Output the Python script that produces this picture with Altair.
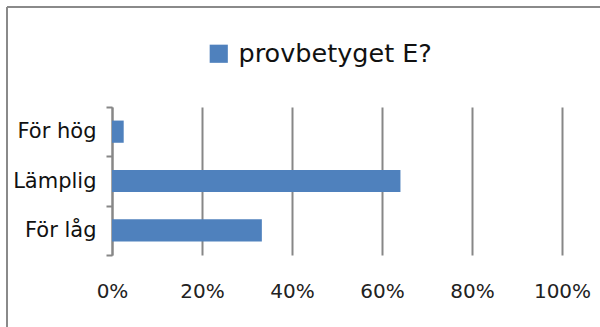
import altair as alt
import pandas as pd

categories = ["För hög", "Lämplig", "För låg"]
values = [0.026, 0.641, 0.333]
series_name = "provbetyget E?"
tick_values = [0, 0.2, 0.4, 0.6, 0.8, 1.0]

df = pd.DataFrame({"kategori": categories, "andel": values, "serie": [series_name] * 3})

FONT = "DejaVu Sans"
GRAY = "#878787"

bars = alt.Chart(df).mark_bar(color="#4f81bd", height=alt.RelativeBandSize(0.45)).encode(
    x=alt.X("andel:Q",
            scale=alt.Scale(domain=[0, 1], nice=False),
            axis=alt.Axis(values=tick_values, format=".0%", title=None,
                          domain=False, ticks=False, grid=True,
                          gridColor=GRAY, gridWidth=2,
                          labelFont=FONT, labelFontSize=20, labelColor="#222222",
                          labelPadding=26, labelFlush=False, labelOverlap=False)),
    y=alt.Y("kategori:N", sort=categories,
            scale=alt.Scale(paddingInner=0, paddingOuter=0),
            axis=alt.Axis(title=None, domainColor=GRAY, domainWidth=2,
                          tickColor=GRAY, tickWidth=2, tickSize=6, tickBand="extent",
                          labelFont=FONT, labelFontSize=21, labelColor="#111111",
                          labelPadding=10, grid=False)),
    color=alt.Color("serie:N", scale=alt.Scale(range=["#4f81bd"]),
                    legend=alt.Legend(title=None, orient="none", legendX=94, legendY=-66,
                                      symbolType="square", symbolSize=330,
                                      symbolStrokeWidth=0, labelFont=FONT,
                                      labelFontSize=25.5, labelColor="#111111",
                                      labelOffset=7, labelLimit=0, padding=0)),
)

border_left = alt.Chart(df).mark_rule(color="#8a8a8a", strokeWidth=2).encode(
    x=alt.value(-105), y=alt.value(-100), y2=alt.value(230)
)
border_top = alt.Chart(df).mark_rule(color="#8a8a8a", strokeWidth=2).encode(
    x=alt.value(-105), x2=alt.value(500), y=alt.value(-100)
)

chart = alt.layer(bars, border_left, border_top).properties(
    width=450, height=148,
    padding={"left": 112, "top": 107, "right": 38, "bottom": 72},
    autosize=alt.AutoSizeParams(type="none"),
    background="white",
).configure_view(stroke=None)

chart.save("out.html", embed_options={"renderer": "svg", "actions": False})
